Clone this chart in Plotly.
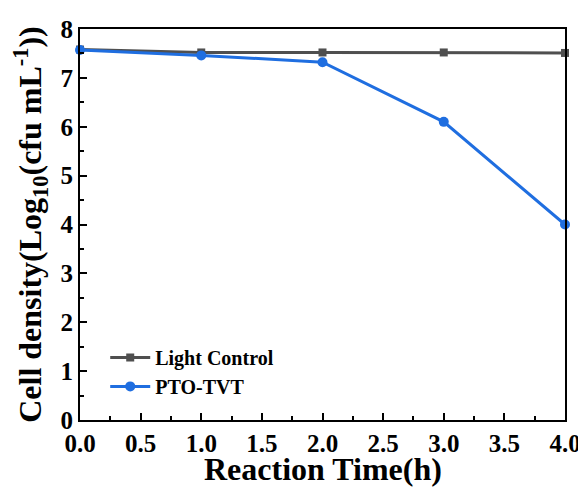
import plotly.graph_objects as go

time_h = [0, 1, 2, 3, 4]
light_control = [7.58, 7.52, 7.52, 7.52, 7.51]
pto_tvt = [7.57, 7.46, 7.32, 6.10, 4.00]

x_tick_vals = [0, 0.5, 1, 1.5, 2, 2.5, 3, 3.5, 4]
x_tick_text = ["0.0", "0.5", "1.0", "1.5", "2.0", "2.5", "3.0", "3.5", "4.0"]
y_tick_vals = [0, 1, 2, 3, 4, 5, 6, 7, 8]
y_tick_text = ["0", "1", "2", "3", "4", "5", "6", "7", "8"]

x_title = "<b>Reaction Time(h)</b>"
y_title = "<b>Cell density(Log<sub>10</sub>(cfu mL<sup>-1</sup>))</b>"

FONT = "Liberation Serif"
TICK_FONT = dict(family=FONT, size=25, color="black", weight="bold")

fig = go.Figure()
fig.add_trace(go.Scatter(
    x=time_h, y=light_control, name="Light Control", mode="lines+markers",
    line=dict(color="#4f4f4f", width=3),
    marker=dict(symbol="square", size=8, color="#4f4f4f"),
    cliponaxis=False,
))
fig.add_trace(go.Scatter(
    x=time_h, y=pto_tvt, name="PTO-TVT", mode="lines+markers",
    line=dict(color="#1f6ee0", width=3),
    marker=dict(symbol="circle", size=10, color="#1f6ee0"),
    cliponaxis=False,
))

fig.update_layout(
    width=578, height=487,
    margin=dict(l=72, r=21, t=21, b=75, autoexpand=False),
    paper_bgcolor="white", plot_bgcolor="white",
    font=dict(family=FONT, size=25, color="black", weight="bold"),
    showlegend=True,
    legend=dict(
        x=0.052, y=0.21, xanchor="left", yanchor="top",
        bgcolor="rgba(0,0,0,0)",
        font=dict(family=FONT, size=20, color="black", weight="bold"),
        itemwidth=40, tracegroupgap=0,
    ),
    annotations=[dict(
        text=x_title, x=0.5, y=-0.125, xref="paper", yref="paper",
        xanchor="center", yanchor="middle", showarrow=False,
        font=dict(family=FONT, size=32, color="black"),
    )],
)
fig.update_xaxes(
    range=[0, 4], tickmode="array", tickvals=x_tick_vals, ticktext=x_tick_text,
    tickfont=TICK_FONT,
    showline=True, linecolor="black", linewidth=2, mirror=True,
    ticks="inside", ticklen=7, tickwidth=2, tickcolor="black",
    showgrid=False, zeroline=False, automargin=False,
    minor=dict(ticks="inside", ticklen=4, tickwidth=1.5, dtick=0.25, tickcolor="black"),
)
fig.update_yaxes(
    range=[0, 8], tickmode="array", tickvals=y_tick_vals, ticktext=y_tick_text,
    tickfont=TICK_FONT,
    showline=True, linecolor="black", linewidth=2, mirror=True,
    ticks="inside", ticklen=7, tickwidth=2, tickcolor="black",
    showgrid=False, zeroline=False, automargin=False,
    minor=dict(ticks="inside", ticklen=4, tickwidth=1.5, dtick=0.5, tickcolor="black"),
    title=dict(text=y_title, font=dict(family=FONT, size=32), standoff=10),
)

fig.write_html("out.html")
